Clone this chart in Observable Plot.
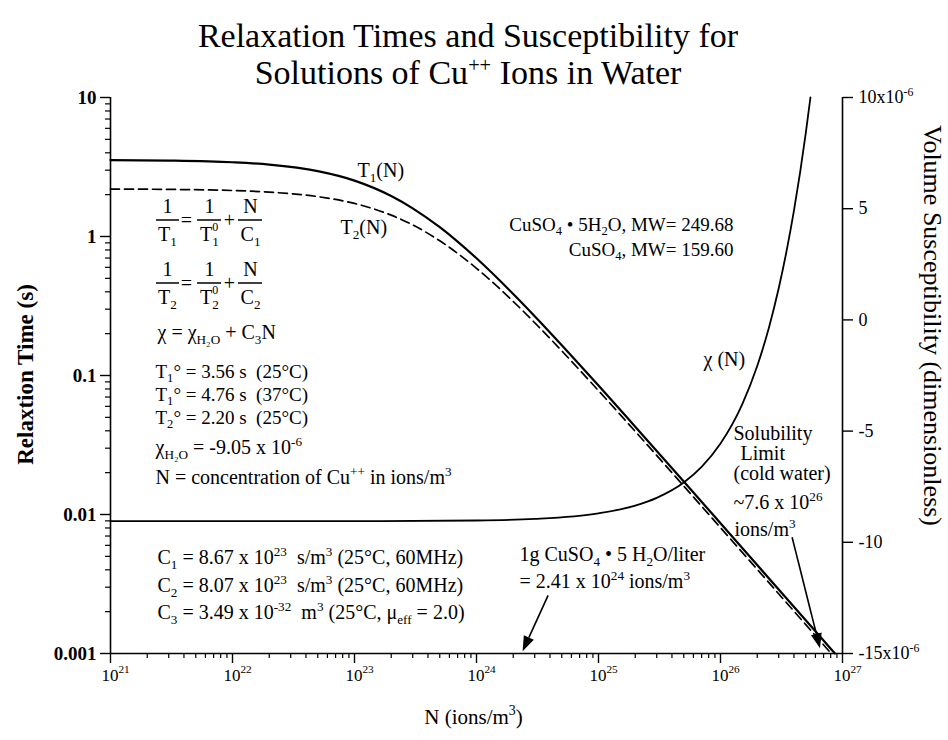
<!DOCTYPE html>
<html><head><meta charset="utf-8">
<script src="https://cdn.jsdelivr.net/npm/d3@7"></script>
<script src="https://cdn.jsdelivr.net/npm/@observablehq/plot@0.6"></script>
<style>
html,body{margin:0;padding:0;background:#fff;}
#wrap{width:948px;height:740px;position:relative;font-family:"Liberation Serif","Times New Roman",serif;color:#000;overflow:hidden;}
#title{height:82px;box-sizing:border-box;padding-top:17px;padding-right:12px;text-align:center;font-size:34px;line-height:37px;}
#title sup{font-size:0.6em;line-height:0;vertical-align:0.6em;}
svg text{white-space:pre;}
</style></head><body>
<div id="wrap">
<div id="title">Relaxation Times and Susceptibility for<br>Solutions of Cu<sup>++</sup> Ions in Water</div>
<div id="chart"></div>
</div>
<script>
// ---- data ----
const N_T1 = [1e21, 3e21, 1e22, 2e22, 5e22, 1e23, 2e23, 3e23, 5e23, 7e23, 1e24, 2e24, 3e24, 5e24, 1e25, 2e25, 5e25, 1e26, 2e26, 5e26, 8.67e26];
const T1   = [3.545, 3.517, 3.420, 3.290, 2.953, 2.524, 1.955, 1.595, 1.166, 0.919, 0.697, 0.386, 0.2673, 0.1653, 0.0847, 0.0428, 0.01726, 0.00865, 0.00433, 0.001733, 0.001];
const N_T2 = [1e21, 3e21, 1e22, 2e22, 5e22, 1e23, 2e23, 3e23, 5e23, 7e23, 1e24, 2e24, 3e24, 5e24, 1e25, 2e25, 5e25, 1e26, 2e26, 5e26, 8.07e26];
const T2   = [2.194, 2.182, 2.142, 2.086, 1.936, 1.729, 1.424, 1.211, 0.931, 0.7565, 0.5903, 0.341, 0.2397, 0.1504, 0.0778, 0.03963, 0.01602, 0.00804, 0.004028, 0.001613, 0.001];
const N_CHI = [1e21, 1e22, 1e23, 1e24, 3e24, 1e25, 2e25, 3e25, 5e25, 7e25, 1e26, 1.5e26, 2e26, 2.5e26, 3e26, 3.5e26, 4e26, 4.5e26, 5e26, 5.46e26];
const CHI   = [-9.05, -9.05, -9.05, -9.02, -8.95, -8.70, -8.35, -8.00, -7.31, -6.61, -5.56, -3.82, -2.07, -0.33, 1.42, 3.17, 4.91, 6.66, 8.40, 10.0]; // x 10^-6

const xMajor = [1e21, 1e22, 1e23, 1e24, 1e25, 1e26, 1e27];
const xMajorLabels = ["10^{21}", "10^{22}", "10^{23}", "10^{24}", "10^{25}", "10^{26}", "10^{27}"];
const yMajor = [0.001, 0.01, 0.1, 1, 10];
const yMajorLabels = ["0.001", "0.01", "0.1", "1", "10"];
const chiTicks = [-15, -10, -5, 0, 5, 10];
const chiTickLabels = ["-15x10^{-6}", "-10", "-5", "0", "5", "10x10^{-6}"];

// ---- helpers ----
const chiDomain = [-15, 10];
const chiToT = c => Math.pow(10, -3 + (c - chiDomain[0]) / (chiDomain[1] - chiDomain[0]) * 4);
const nearest = (arr, v, f = x => x) => arr.reduce((b, a, i) => Math.abs(f(a) - f(v)) < Math.abs(f(arr[b]) - f(v)) ? i : b, 0);
const minors = decades => decades.flatMap(d => [2,3,4,5,6,7,8,9].map(k => k * d));
const xMinor = minors([1e21,1e22,1e23,1e24,1e25,1e26]);
const yMinor = minors([0.001,0.01,0.1,1]);
const chiTickPos = chiTicks.map(chiToT);

const t1Data = N_T1.map((n, i) => ({N: n, T: T1[i]}));
const t2Data = N_T2.map((n, i) => ({N: n, T: T2[i]}));
const chiData = N_CHI.map((n, i) => ({N: n, chi: CHI[i]}));

const M = {top: 15, right: 106, bottom: 87, left: 110};
const SVG_TOP = 82; // page y of the svg
const PLOT_TOP = SVG_TOP + M.top;

function note(text, x, y, o = {}) {
  return Plot.text([text], {text: d => d, frameAnchor: "top-left", dx: x - M.left, dy: y - PLOT_TOP,
    textAnchor: "start", lineAnchor: "middle", fontSize: 20, fill: "black", ...o});
}
const notes = [
  ["1", 167, 206, "middle"], ["T_{1}", 167, 234, "middle"], ["=", 186, 220, "middle"],
  ["1", 209, 206, "middle"], ["T_{1}^{0}", 209, 234, "middle"], ["+", 229, 220, "middle"],
  ["N", 250, 206, "middle"], ["C_{1}", 250, 234, "middle"],
  ["1", 167, 269, "middle"], ["T_{2}", 167, 297, "middle"], ["=", 186, 283, "middle"],
  ["1", 209, 269, "middle"], ["T_{2}^{0}", 209, 297, "middle"], ["+", 229, 283, "middle"],
  ["N", 250, 269, "middle"], ["C_{2}", 250, 297, "middle"],
  ["χ = χ_{H₂O} + C_{3}N", 157, 332],
  ["T_{1}° = 3.56 s  (25°C)", 155, 371, null, 19],
  ["T_{1}° = 4.76 s  (37°C)", 155, 394, null, 19],
  ["T_{2}° = 2.20 s  (25°C)", 155, 417, null, 19],
  ["χ_{H₂O} = -9.05 x 10^{-6}", 155, 447],
  ["N = concentration of Cu^{++} in ions/m^{3}", 155, 477],
  ["C_{1} = 8.67 x 10^{23}  s/m^{3} (25°C, 60MHz)", 157, 557],
  ["C_{2} = 8.07 x 10^{23}  s/m^{3} (25°C, 60MHz)", 157, 585],
  ["C_{3} = 3.49 x 10^{-32}  m^{3} (25°C, μ_{eff} = 2.0)", 157, 612],
  ["T_{1}(N)", 357, 170],
  ["T_{2}(N)", 340, 227],
  ["CuSO_{4} • 5H_{2}O, MW= 249.68", 733, 224, "end", 19],
  ["CuSO_{4}, MW= 159.60", 733, 249, "end", 19],
  ["χ (N)", 703, 359],
  ["Solubility", 733, 433],
  ["Limit", 740, 453],
  ["(cold water)", 733, 473],
  ["~7.6 x 10^{26}", 733, 502],
  ["ions/m^{3}", 734, 529],
  ["1g CuSO_{4} • 5 H_{2}O/liter", 519, 554],
  ["= 2.41 x 10^{24} ions/m^{3}", 519, 581]
];
const fracBars = [[156,179,220],[197,221,220],[238,262,220],[156,179,283],[197,221,283],[238,262,283]];
const arrows = [
  {x1: 3.9e24, y1: 0.0026, x2: 2.41e24, y2: 0.00103},
  {x1: 3.9e26, y1: 0.0068, x2: 6.6e26, y2: 0.00108}
];

const chart = Plot.plot({
  width: 948, height: 658,
  marginTop: M.top, marginRight: M.right, marginBottom: M.bottom, marginLeft: M.left,
  style: {fontFamily: "'Liberation Serif', 'Times New Roman', serif", fontSize: "16px", color: "black", background: "white", overflow: "visible"},
  x: {type: "log", domain: [1e21, 1e27]},
  y: {type: "log", domain: [0.001, 10]},
  marks: [
    Plot.axisX(xMajor, {tickSize: 10, strokeWidth: 1.4, tickFormat: () => "", label: null}),
    Plot.text(xMajor, {x: d => d, frameAnchor: "bottom", dy: 27, dx: 5, text: (d, i) => xMajorLabels[i], fontSize: 17}),
    Plot.axisX(xMinor, {tickSize: 5, strokeWidth: 1.2, tickFormat: () => "", label: null}),
    Plot.axisY(yMajor, {anchor: "left", tickSize: 10, tickPadding: 4, fontSize: 19, fontWeight: "bold", strokeWidth: 1.4, tickFormat: d => yMajorLabels[nearest(yMajor, d, Math.log10)], label: null}),
    Plot.axisY(yMinor, {anchor: "left", tickSize: 5, strokeWidth: 1.2, tickFormat: () => "", label: null}),
    Plot.axisY(chiTickPos, {anchor: "right", tickSize: 10, strokeWidth: 1.4, tickFormat: () => "", label: null}),
    Plot.text(chiTicks, {y: chiToT, frameAnchor: "right", dx: 16, text: (d, i) => chiTickLabels[i], textAnchor: "start", fontSize: 18}),
    Plot.ruleY([0.001], {stroke: "black", strokeWidth: 1.6}),
    Plot.ruleX([1e21], {stroke: "black", strokeWidth: 1.6}),
    Plot.ruleX([1e27], {stroke: "black", strokeWidth: 1.6}),
    Plot.line(t2Data, {x: "N", y: "T", stroke: "black", strokeWidth: 1.7, strokeDasharray: "9,5", curve: "monotone-x"}),
    Plot.line(t1Data, {x: "N", y: "T", stroke: "black", strokeWidth: 2.2, curve: "monotone-x"}),
    Plot.line(chiData, {x: "N", y: d => chiToT(d.chi), stroke: "black", strokeWidth: 1.8, curve: "monotone-x"}),
    // axis titles
    Plot.text(["Relaxtion Time (s)"], {text: d => d, frameAnchor: "left", textAnchor: "middle", dx: 25 - M.left, dy: -1, rotate: -90, fontSize: 23, fontWeight: "bold"}),
    Plot.text(["Volume Susceptibility (dimensionless)"], {text: d => d, frameAnchor: "right", textAnchor: "middle", dx: 932 - 842, dy: 325 - 375, rotate: 90, fontSize: 26}),
    Plot.text(["N (ions/m^{3})"], {text: d => d, frameAnchor: "bottom", dx: -3, dy: 70, fontSize: 21}),
    ...notes.map(([t, x, y, a, fs]) => note(t, x, y, {...(a ? {textAnchor: a} : {}), ...(fs ? {fontSize: fs} : {})})),
    () => {
      const g = d3.create("svg:g").attr("stroke", "black").attr("stroke-width", 1.5);
      for (const [x1, x2, y] of fracBars) g.append("line").attr("x1", x1).attr("x2", x2).attr("y1", y - SVG_TOP).attr("y2", y - SVG_TOP);
      return g.node();
    },
    (index, scales) => {
      const g = d3.create("svg:g");
      for (const a of arrows) {
        const x1 = scales.x(a.x1), y1 = scales.y(a.y1), x2 = scales.x(a.x2), y2 = scales.y(a.y2);
        const ang = Math.atan2(y2 - y1, x2 - x1), L = 15, W = 5.5;
        const bx = x2 - L * Math.cos(ang), by = y2 - L * Math.sin(ang);
        g.append("line").attr("x1", x1).attr("y1", y1).attr("x2", bx).attr("y2", by).attr("stroke", "black").attr("stroke-width", 1.6);
        g.append("path").attr("fill", "black")
          .attr("d", `M${x2},${y2}L${bx + W * Math.sin(ang)},${by - W * Math.cos(ang)}L${bx - W * Math.sin(ang)},${by + W * Math.cos(ang)}Z`);
      }
      return g.node();
    }
  ]
});
document.getElementById("chart").appendChild(chart);

// rich text: ^{..} superscript, _{..} subscript; a ^{} right after a _{} is stacked above it
function richify(svg) {
  const NS = "http://www.w3.org/2000/svg";
  svg.querySelectorAll("text").forEach(t => {
    const s = t.textContent;
    if (!s.trim()) { t.remove(); return; }
    if (!/[\^_]\{/.test(s)) return;
    const fs = parseFloat(getComputedStyle(t).fontSize) || 16;
    t.textContent = "";
    const re = /([\^_])\{([^}]*)\}|([^\^_]+)/g;
    let m, level = 0, lastSub = null, pendingDx = 0;
    while ((m = re.exec(s))) {
      const ts = document.createElementNS(NS, "tspan");
      let target, size;
      const stacked = m[1] === "^" && lastSub;
      if (m[3] !== undefined) { target = 0; size = fs; ts.textContent = m[3]; }
      else if (m[1] === "^") { size = (stacked ? 0.6 : 0.66) * fs; target = (stacked ? -0.5 : -0.42) * fs; ts.textContent = m[2]; }
      else { size = 0.66 * fs; target = 0.24 * fs; ts.textContent = m[2]; }
      ts.setAttribute("font-size", size);
      if (target !== level) ts.setAttribute("dy", (target - level).toFixed(2));
      t.appendChild(ts);
      let dx = pendingDx; pendingDx = 0;
      if (stacked) {
        const sw = lastSub.getComputedTextLength();
        const pw = ts.getComputedTextLength();
        dx -= sw;
        if (sw > pw) pendingDx = sw - pw;
      }
      if (dx) ts.setAttribute("dx", dx.toFixed(2));
      level = target;
      lastSub = (m[1] === "_") ? ts : null;
    }
  });
}
richify(chart);
</script>
</body></html>
